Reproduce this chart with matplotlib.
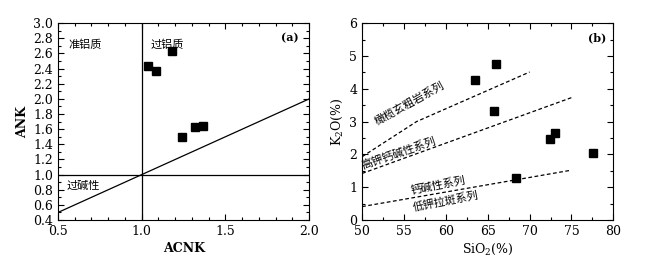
import numpy as np
import matplotlib
matplotlib.use('Agg')
import matplotlib.pyplot as plt
from matplotlib.ticker import MultipleLocator

plt.rcParams['font.family'] = ['DejaVu Serif', 'Noto Sans CJK SC']
plt.rcParams['mathtext.fontset'] = 'dejavuserif'

# (a) ACNK - ANK
acnk = [1.036, 1.084, 1.183, 1.243, 1.319, 1.368]
ank = [2.436, 2.374, 2.626, 1.493, 1.625, 1.647]

# (b) SiO2 - K2O
sio2 = [63.5, 66.0, 65.7, 68.4, 72.4, 73.0, 77.6]
k2o = [4.26, 4.76, 3.32, 1.27, 2.47, 2.64, 2.04]

# boundary lines in (b)
sho_x = [50, 56.5, 70]
sho_y = [1.93, 3.0, 4.51]
hk_x = [50, 75]
hk_y = [1.42, 3.73]
ca_x = [50, 75]
ca_y = [0.41, 1.52]

cjk = ['Noto Sans CJK SC']

fig = plt.figure(figsize=(6.56, 2.69), dpi=100)
ax1 = fig.add_axes([0.0884, 0.182, 0.383, 0.732])
ax2 = fig.add_axes([0.552, 0.182, 0.383, 0.732])

for ax in (ax1, ax2):
    ax.tick_params(which='both', direction='in', top=True, right=True,
                   labelsize=9, width=0.8)
    ax.tick_params(which='major', length=4)
    ax.tick_params(which='minor', length=2)
    for s in ax.spines.values():
        s.set_linewidth(0.8)

# ---- (a)
ax1.set_xlim(0.5, 2.0)
ax1.set_ylim(0.4, 3.0)
ax1.xaxis.set_major_locator(MultipleLocator(0.5))
ax1.xaxis.set_minor_locator(MultipleLocator(0.1))
ax1.yaxis.set_major_locator(MultipleLocator(0.2))
ax1.yaxis.set_minor_locator(MultipleLocator(0.1))
ax1.axvline(1.0, color='black', lw=0.9)
ax1.axhline(1.0, color='black', lw=0.9)
ax1.plot([0.5, 2.0], [0.5, 2.0], color='black', lw=0.9)
ax1.plot(acnk, ank, 's', color='black', ms=6)
ax1.set_xlabel('ACNK', fontsize=9, fontweight='bold', labelpad=3)
ax1.set_ylabel('ANK', fontsize=9, fontweight='bold', labelpad=3)
ax1.text(0.56, 2.72, '准铝质', family=cjk, fontsize=8, va='center')
ax1.text(1.05, 2.72, '过铝质', family=cjk, fontsize=8, va='center')
ax1.text(0.55, 0.85, '过碱性', family=cjk, fontsize=8, va='center')
ax1.text(1.885, 2.81, '(a)', fontsize=8, fontweight='bold',
         ha='center', va='center')

# ---- (b)
ax2.set_xlim(50, 80)
ax2.set_ylim(0, 6)
ax2.xaxis.set_major_locator(MultipleLocator(5))
ax2.xaxis.set_minor_locator(MultipleLocator(2.5))
ax2.yaxis.set_major_locator(MultipleLocator(1))
ax2.yaxis.set_minor_locator(MultipleLocator(0.5))
ax2.plot(sho_x, sho_y, '--', color='black', lw=0.9, dashes=(3, 2))
ax2.plot(hk_x, hk_y, '--', color='black', lw=0.9, dashes=(3, 2))
ax2.plot(ca_x, ca_y, '--', color='black', lw=0.9, dashes=(3, 2))
ax2.plot(sio2, k2o, 's', color='black', ms=6)
ax2.set_xlabel('SiO$_2$(%)', fontsize=9, labelpad=3)
ax2.set_ylabel('K$_2$O(%)', fontsize=9, labelpad=3)
ax2.text(55.7, 3.55, '橄榄玄粗岩系列', family=cjk, fontsize=8,
         ha='center', va='center', rotation=29)
ax2.text(54.4, 2.05, '高钾钙碱性系列', family=cjk, fontsize=8,
         ha='center', va='center', rotation=19)
ax2.text(59.0, 1.06, '钙碱性系列', family=cjk, fontsize=8,
         ha='center', va='center', rotation=11)
ax2.text(60.0, 0.56, '低钾拉斑系列', family=cjk, fontsize=8,
         ha='center', va='center', rotation=11)
ax2.text(78.1, 5.55, '(b)', fontsize=8, fontweight='bold',
         ha='center', va='center')

fig.savefig('out.png', dpi=100)
